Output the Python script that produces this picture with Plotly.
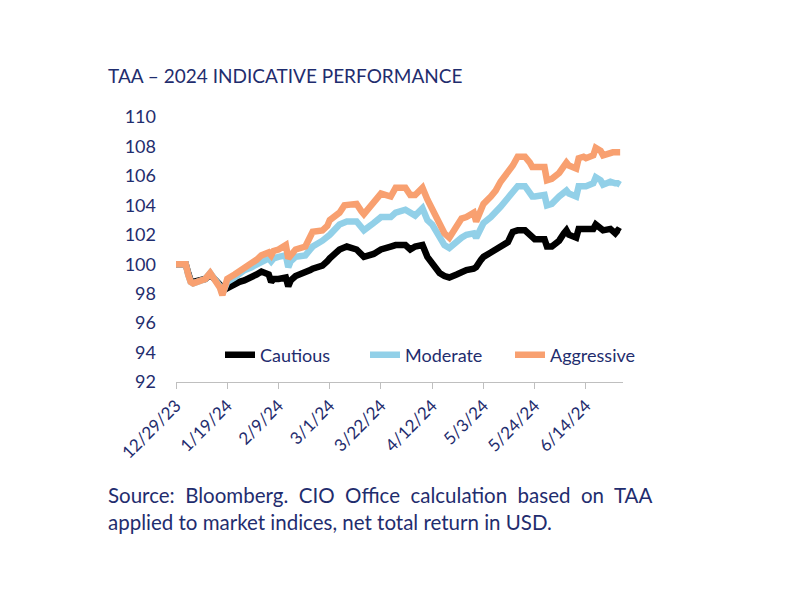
import plotly.graph_objects as go

dates = ["2023-12-29","2024-01-02","2024-01-03","2024-01-04","2024-01-05","2024-01-08","2024-01-10","2024-01-12",
         "2024-01-16","2024-01-17","2024-01-19","2024-01-22","2024-01-24","2024-01-26","2024-01-29","2024-01-31",
         "2024-02-02","2024-02-05","2024-02-06","2024-02-07","2024-02-09","2024-02-12","2024-02-13","2024-02-14",
         "2024-02-16","2024-02-20","2024-02-22","2024-02-23","2024-02-27","2024-02-29","2024-03-01","2024-03-05",
         "2024-03-07","2024-03-08","2024-03-12","2024-03-14","2024-03-15","2024-03-19","2024-03-21","2024-03-22",
         "2024-03-26","2024-03-28","2024-04-01","2024-04-03","2024-04-05","2024-04-08","2024-04-10","2024-04-12",
         "2024-04-15","2024-04-17","2024-04-19","2024-04-22","2024-04-24","2024-04-26","2024-04-29","2024-04-30",
         "2024-05-02","2024-05-03","2024-05-06","2024-05-08","2024-05-10","2024-05-13","2024-05-15","2024-05-17",
         "2024-05-20","2024-05-22","2024-05-23","2024-05-24","2024-05-28","2024-05-29","2024-05-31","2024-06-03",
         "2024-06-05","2024-06-06","2024-06-07","2024-06-10","2024-06-11","2024-06-13","2024-06-14","2024-06-17",
         "2024-06-18","2024-06-20","2024-06-21","2024-06-24","2024-06-25","2024-06-26","2024-06-27","2024-06-28"]

cautious = [100.0,100.0,99.4,98.9,98.8,98.9,99.0,99.3,
            98.6,98.2,98.4,98.6,98.8,98.9,99.1,99.3,
            99.5,99.3,98.8,99.0,99.0,99.1,98.5,98.9,
            99.2,99.4,99.6,99.7,99.9,100.2,100.4,101.0,
            101.2,101.2,101.0,100.6,100.5,100.7,100.9,101.0,
            101.2,101.3,101.3,101.0,101.2,101.3,100.5,100.1,
            99.4,99.2,99.1,99.3,99.5,99.6,99.7,99.8,
            100.3,100.5,100.8,101.0,101.2,101.5,102.2,102.3,
            102.3,102.0,101.8,101.7,101.7,101.2,101.2,101.6,
            102.1,102.3,102.0,101.8,102.4,102.4,102.3,102.4,
            102.7,102.5,102.3,102.4,102.2,102.1,102.3,102.2]

moderate = [100.0,100.0,99.3,98.8,98.7,98.9,99.0,99.4,
            98.5,98.0,98.8,99.1,99.4,99.6,99.8,100.0,
            100.2,100.4,100.2,100.4,100.5,100.6,99.8,100.2,
            100.5,100.6,101.0,101.2,101.6,101.8,102.0,102.7,
            102.9,102.9,102.9,102.4,102.3,102.8,103.1,103.2,
            103.2,103.5,103.7,103.5,103.3,103.8,103.0,102.7,
            101.8,101.3,101.1,101.6,101.8,102.0,102.1,101.8,
            102.5,102.8,103.2,103.5,103.9,104.5,104.9,105.3,
            105.3,104.9,104.6,104.6,104.7,104.0,104.1,104.6,
            104.9,105.0,104.8,104.6,105.3,105.3,105.3,105.5,
            105.9,105.7,105.4,105.6,105.5,105.5,105.5,105.4]

aggressive = [100.0,100.0,99.3,98.8,98.7,98.9,99.0,99.4,
              98.4,97.9,99.0,99.3,99.5,99.8,100.0,100.3,
              100.6,100.8,100.6,100.9,101.0,101.3,100.4,100.6,
              101.0,101.2,101.8,102.2,102.3,102.6,103.0,103.5,
              104.0,104.0,104.1,103.6,103.4,104.2,104.7,104.8,
              104.6,105.2,105.2,104.7,104.7,105.2,104.4,103.8,
              102.8,102.1,101.8,102.5,103.1,103.2,103.5,102.9,
              103.9,104.1,104.6,105.0,105.6,106.2,106.7,107.3,
              107.3,106.9,106.6,106.6,106.6,105.7,105.8,106.2,
              106.8,106.9,106.7,106.5,107.2,107.3,107.2,107.4,
              107.9,107.7,107.4,107.6,107.6,107.6,107.6,107.6]

series_names = ["Cautious", "Moderate", "Aggressive"]
series_colors = ["#000000", "#92D0E8", "#F8A070"]
series_values = [cautious, moderate, aggressive]

tick_dates = ["2023-12-29","2024-01-19","2024-02-09","2024-03-01","2024-03-22",
              "2024-04-12","2024-05-03","2024-05-24","2024-06-14"]
tick_labels = ["12/29/23","1/19/24","2/9/24","3/1/24","3/22/24","4/12/24","5/3/24","5/24/24","6/14/24"]
y_ticks = [92, 94, 96, 98, 100, 102, 104, 106, 108, 110]

title_text = "TAA – 2024 INDICATIVE PERFORMANCE"
GAP = " \u00a0"
source_line1 = GAP.join(["Source:", "Bloomberg.", "CIO", "Office", "calculation", "based", "on", "TAA"])
source_line2 = "applied to market indices, net total return in USD."

NAVY = "#1F2D6E"
FONT = "Lato, 'Open Sans', sans-serif"

fig = go.Figure()
for name, color, vals in zip(series_names, series_colors, series_values):
    fig.add_trace(go.Scatter(x=dates, y=vals, mode="lines", name=name,
                             line=dict(color=color, width=6.5)))

L, R, T, B = 176, 177, 117, 218
W, H = 800, 600
pw, ph = W - L - R, H - T - B

def px_x(x):
    return (x - L) / pw

def px_y(y):
    return (H - B - y) / ph

fig.update_layout(
    width=W, height=H,
    margin=dict(l=L, r=R, t=T, b=B),
    paper_bgcolor="white", plot_bgcolor="white",
    font=dict(family=FONT, color=NAVY, size=18),
    showlegend=True,
    legend=dict(orientation="h", x=px_x(220), y=px_y(355), xanchor="left", yanchor="middle",
                font=dict(size=18, color=NAVY), entrywidth=100, entrywidthmode="pixels",
                bgcolor="rgba(0,0,0,0)", itemclick=False),
    xaxis=dict(type="date", range=["2023-12-29", "2024-06-29 04:00"],
               tickvals=tick_dates, ticktext=tick_labels, tickangle=-45,
               showgrid=False, zeroline=False, showline=True, linecolor="#BFBFBF", linewidth=1,
               ticks="outside", ticklen=6, tickcolor="#BFBFBF",
               tickfont=dict(size=17, color=NAVY)),
    yaxis=dict(range=[92, 110], tickvals=y_ticks, showgrid=False, zeroline=False,
               showline=False, ticks="", ticklabelstandoff=19,
               tickfont=dict(size=18, color=NAVY)),
    annotations=[
        dict(text=title_text, xref="paper", yref="paper", x=px_x(106), y=px_y(75),
             xanchor="left", yanchor="middle", showarrow=False, font=dict(size=19, color=NAVY)),
        dict(text=source_line1, xref="paper", yref="paper", x=px_x(106), y=px_y(495),
             xanchor="left", yanchor="middle", showarrow=False, font=dict(size=20.5, color=NAVY)),
        dict(text=source_line2, xref="paper", yref="paper", x=px_x(106), y=px_y(522),
             xanchor="left", yanchor="middle", showarrow=False, font=dict(size=20.5, color=NAVY)),
    ],
)

fig.write_html("out.html")
